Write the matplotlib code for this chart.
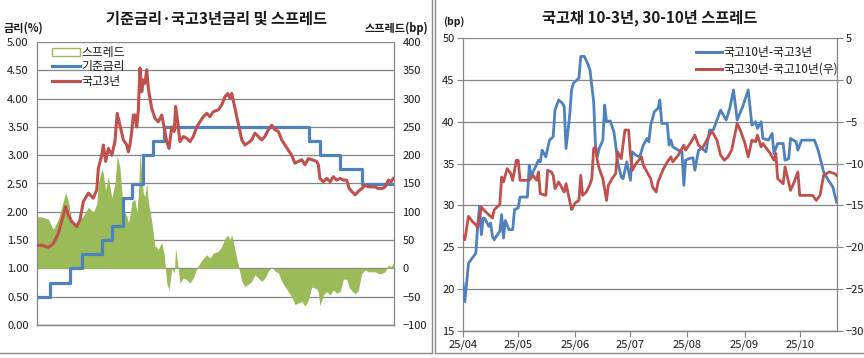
import numpy as np
import pandas as pd
import matplotlib
matplotlib.use("Agg")
import matplotlib.pyplot as plt
import matplotlib.dates as mdates
from matplotlib.lines import Line2D
from matplotlib.patches import Patch

plt.rcParams['font.family'] = ['Noto Sans CJK KR', 'DejaVu Sans']

# ---------------- data: left chart ----------------
base_dates = ['2021-07-01', '2021-08-26', '2021-11-25', '2022-01-14', '2022-04-14', '2022-05-26',
              '2022-07-13', '2022-08-25', '2022-10-12', '2022-11-24', '2023-01-13', '2024-10-11',
              '2024-11-28', '2025-02-25', '2025-05-29', '2025-10-19']
base_rate = [0.50, 0.75, 1.00, 1.25, 1.50, 1.75, 2.25, 2.50, 3.00, 3.25, 3.50, 3.25, 3.00, 2.75, 2.50, 2.50]

ktb3_dates = [
    '2021-07-01', '2021-07-22', '2021-08-20', '2021-09-11', '2021-10-03', '2021-10-25', '2021-11-04',
    '2021-11-16', '2021-12-01', '2021-12-23',
    '2022-01-06', '2022-01-21', '2022-02-12', '2022-03-06', '2022-03-21', '2022-03-28', '2022-04-12',
    '2022-04-19', '2022-04-29', '2022-05-11', '2022-05-26', '2022-06-09', '2022-06-19', '2022-07-01',
    '2022-07-16', '2022-07-31', '2022-08-07',
    '2022-08-14', '2022-08-22', '2022-08-29', '2022-09-05', '2022-09-13', '2022-09-20', '2022-09-27',
    '2022-10-05', '2022-10-12', '2022-10-19', '2022-10-27', '2022-11-03', '2022-11-10', '2022-11-18',
    '2022-12-02', '2022-12-17',
    '2023-01-01', '2023-01-12', '2023-01-23', '2023-02-02', '2023-02-14', '2023-02-25', '2023-03-03',
    '2023-03-12', '2023-03-22', '2023-04-06', '2023-04-21', '2023-05-05', '2023-05-20', '2023-06-04',
    '2023-06-18', '2023-07-03', '2023-07-18', '2023-08-01', '2023-08-16', '2023-09-07', '2023-09-22',
    '2023-10-06', '2023-10-18', '2023-10-28', '2023-11-05', '2023-11-16', '2023-11-27', '2023-12-07',
    '2023-12-19',
    '2024-01-02', '2024-01-17', '2024-02-01', '2024-02-15', '2024-03-01', '2024-03-16', '2024-03-30',
    '2024-04-14', '2024-04-29', '2024-05-13', '2024-05-28', '2024-06-12', '2024-06-26', '2024-07-11',
    '2024-07-26', '2024-08-09', '2024-08-24', '2024-09-08', '2024-09-22', '2024-10-07', '2024-10-22',
    '2024-11-13', '2024-11-20', '2024-11-27', '2024-12-12', '2024-12-27',
    '2025-01-11', '2025-01-25', '2025-02-09', '2025-02-24', '2025-03-10', '2025-03-25', '2025-04-05',
    '2025-04-16', '2025-05-01', '2025-05-15', '2025-05-30', '2025-06-14', '2025-06-28', '2025-07-13',
    '2025-07-28', '2025-08-11', '2025-08-26', '2025-09-10', '2025-09-24', '2025-10-06', '2025-10-16']
ktb3_rate = [
    1.41, 1.41, 1.37, 1.44, 1.62, 1.94, 2.09, 1.94, 1.83, 1.74,
    1.86, 2.18, 2.33, 2.24, 2.39, 2.77, 3.00, 3.18, 2.89, 3.12, 3.00, 3.24, 3.74, 3.53, 3.27, 3.18, 3.06,
    3.18, 3.42, 3.71, 3.71, 3.50, 3.80, 4.54, 4.12, 4.33, 4.27, 4.51, 4.18, 4.01, 3.83, 3.65, 3.59,
    3.71, 3.48, 3.24, 3.12, 3.50, 3.42, 3.86, 3.59, 3.24, 3.33, 3.30, 3.24, 3.33, 3.50, 3.59, 3.68, 3.74,
    3.68, 3.77, 3.80, 3.89, 4.03, 4.09, 4.01, 4.09, 3.89, 3.68, 3.50, 3.27,
    3.18, 3.22, 3.27, 3.39, 3.33, 3.27, 3.33, 3.45, 3.53, 3.45, 3.42, 3.27, 3.18, 3.09, 3.00, 2.86, 2.89,
    2.92, 2.83, 2.94, 2.92, 2.89, 2.83, 2.59, 2.53, 2.59,
    2.53, 2.62, 2.56, 2.59, 2.56, 2.56, 2.41, 2.36, 2.30, 2.36, 2.41, 2.47, 2.44, 2.44, 2.44, 2.41, 2.41,
    2.44, 2.56, 2.53, 2.59]

left_xticks = ['2021-07-01', '2022-01-01', '2022-07-01', '2023-01-01', '2023-07-01', '2024-01-01',
               '2024-07-01', '2025-01-01', '2025-07-01']

# ---------------- data: right chart ----------------
s103_dates = [
    '2025-04-01', '2025-04-02', '2025-04-04', '2025-04-06', '2025-04-08', '2025-04-09', '2025-04-10',
    '2025-04-11', '2025-04-12', '2025-04-13', '2025-04-15', '2025-04-16', '2025-04-17', '2025-04-18',
    '2025-04-19', '2025-04-21', '2025-04-22', '2025-04-23', '2025-04-24', '2025-04-26', '2025-04-28',
    '2025-04-29', '2025-05-01', '2025-05-02', '2025-05-06', '2025-05-07', '2025-05-08', '2025-05-10',
    '2025-05-12', '2025-05-13', '2025-05-14', '2025-05-16', '2025-05-18', '2025-05-20', '2025-05-21',
    '2025-05-23', '2025-05-25', '2025-05-26', '2025-05-27', '2025-05-29', '2025-05-30', '2025-05-31',
    '2025-06-03', '2025-06-04', '2025-06-06', '2025-06-08', '2025-06-09', '2025-06-11', '2025-06-12',
    '2025-06-13', '2025-06-14', '2025-06-16', '2025-06-17', '2025-06-18', '2025-06-20', '2025-06-22',
    '2025-06-23', '2025-06-24', '2025-06-26', '2025-06-27', '2025-06-29', '2025-07-01', '2025-07-02',
    '2025-07-04', '2025-07-06', '2025-07-08', '2025-07-10', '2025-07-11', '2025-07-12', '2025-07-14',
    '2025-07-16', '2025-07-17', '2025-07-18', '2025-07-21', '2025-07-22', '2025-07-23', '2025-07-24',
    '2025-07-27', '2025-07-29', '2025-07-30', '2025-07-31', '2025-08-02', '2025-08-04', '2025-08-05',
    '2025-08-07', '2025-08-09', '2025-08-11', '2025-08-13', '2025-08-15', '2025-08-17', '2025-08-19',
    '2025-08-22', '2025-08-24', '2025-08-26', '2025-08-28', '2025-08-31', '2025-09-03', '2025-09-05',
    '2025-09-07', '2025-09-08', '2025-09-10', '2025-09-11', '2025-09-14', '2025-09-16', '2025-09-17',
    '2025-09-19', '2025-09-22', '2025-09-23', '2025-09-25', '2025-09-26', '2025-09-29', '2025-09-30',
    '2025-10-02', '2025-10-09', '2025-10-11', '2025-10-14', '2025-10-16', '2025-10-19', '2025-10-21']
s103_bp = [
    20.7, 18.5, 23.1, 23.7, 24.3, 27.7, 29.9, 26.5, 28.5, 28.4, 27.5, 27.9, 26.3, 25.9, 26.3, 26.9, 28.9,
    26.1, 28.2, 27.1, 27.1, 29.5, 29.7, 31.0, 31.0, 34.8, 33.6, 34.4, 35.4, 35.2, 36.6, 35.8, 37.8, 38.2,
    41.4, 42.6, 42.2, 41.8, 36.8, 40.8, 43.8, 44.6, 45.2, 47.8, 47.8, 46.8, 46.2, 42.4, 37.2, 35.8, 36.8,
    37.8, 42.0, 40.0, 40.1, 38.8, 37.2, 35.2, 33.4, 33.2, 35.2, 33.0, 36.4, 36.0, 35.8, 37.2, 38.0, 37.6,
    39.6, 41.2, 41.6, 42.6, 39.8, 39.8, 37.2, 37.8, 37.0, 36.6, 36.4, 32.4, 35.4, 35.6, 35.7, 34.2, 36.6,
    36.8, 36.4, 39.0, 39.0, 40.2, 41.4, 40.2, 41.6, 43.8, 40.2, 41.8, 43.8, 39.6, 40.0, 39.2, 40.0, 38.0,
    37.8, 38.6, 36.2, 37.4, 37.4, 35.4, 35.6, 38.0, 37.6, 36.6, 37.8, 37.8, 36.6, 34.0, 33.2, 32.2, 30.4]

s3010_dates = [
    '2025-04-01', '2025-04-02', '2025-04-04', '2025-04-06', '2025-04-08', '2025-04-09', '2025-04-11',
    '2025-04-13', '2025-04-15', '2025-04-17', '2025-04-18', '2025-04-19', '2025-04-21', '2025-04-22',
    '2025-04-23', '2025-04-25', '2025-04-27', '2025-04-28', '2025-04-30', '2025-05-01', '2025-05-02',
    '2025-05-05', '2025-05-07', '2025-05-09', '2025-05-11', '2025-05-12', '2025-05-13', '2025-05-16',
    '2025-05-17', '2025-05-19', '2025-05-20', '2025-05-21', '2025-05-23', '2025-05-25', '2025-05-26',
    '2025-05-27', '2025-05-30', '2025-06-01', '2025-06-03', '2025-06-04', '2025-06-05', '2025-06-07',
    '2025-06-09', '2025-06-10', '2025-06-11', '2025-06-12', '2025-06-13', '2025-06-14', '2025-06-16',
    '2025-06-18', '2025-06-19', '2025-06-21', '2025-06-23', '2025-06-24', '2025-06-26', '2025-06-28',
    '2025-06-30', '2025-07-01', '2025-07-02', '2025-07-04', '2025-07-07', '2025-07-08', '2025-07-10',
    '2025-07-12', '2025-07-13', '2025-07-15', '2025-07-16', '2025-07-19', '2025-07-21', '2025-07-23',
    '2025-07-24', '2025-07-27', '2025-07-30', '2025-07-31', '2025-08-03', '2025-08-05', '2025-08-07',
    '2025-08-09', '2025-08-11', '2025-08-14', '2025-08-15', '2025-08-17', '2025-08-19', '2025-08-21',
    '2025-08-23', '2025-08-25', '2025-08-28', '2025-08-30', '2025-09-01', '2025-09-03', '2025-09-05',
    '2025-09-07', '2025-09-08', '2025-09-10', '2025-09-11', '2025-09-13', '2025-09-15', '2025-09-17',
    '2025-09-18', '2025-09-19', '2025-09-22', '2025-09-23', '2025-09-26', '2025-09-28', '2025-09-30',
    '2025-10-01', '2025-10-05', '2025-10-08', '2025-10-10', '2025-10-12', '2025-10-14', '2025-10-17',
    '2025-10-20', '2025-10-21']
s3010_bp = [
    -18.7, -19.1, -16.3, -16.9, -17.3, -17.7, -15.2, -15.7, -16.1, -16.5, -15.5, -15.3, -14.9, -11.6,
    -12.2, -10.6, -11.2, -12.0, -9.6, -9.6, -12.0, -12.0, -12.0, -11.4, -12.0, -11.0, -13.6, -13.8,
    -10.8, -11.0, -11.4, -13.0, -12.2, -13.0, -13.4, -12.4, -15.5, -14.7, -14.4, -11.4, -13.8, -13.4,
    -12.5, -11.8, -8.2, -8.0, -9.6, -10.6, -11.8, -14.4, -12.6, -11.8, -11.2, -8.6, -9.4, -6.0, -6.0,
    -9.0, -10.8, -10.0, -9.2, -10.2, -11.0, -11.8, -12.8, -13.4, -12.2, -10.6, -9.8, -9.2, -9.8, -9.0,
    -7.8, -8.4, -7.4, -6.6, -7.8, -8.2, -7.4, -6.2, -6.4, -7.2, -9.0, -9.6, -9.2, -8.4, -5.2, -6.2,
    -7.4, -9.2, -7.2, -7.4, -6.6, -8.0, -7.6, -8.2, -8.8, -9.6, -8.8, -11.8, -12.4, -10.4, -13.2, -12.2,
    -11.0, -13.8, -13.8, -13.8, -14.4, -13.8, -11.4, -11.0, -11.2, -11.4]

right_xticks = ['2025-04-01', '2025-05-01', '2025-06-01', '2025-07-01', '2025-08-01', '2025-09-01',
                '2025-10-01']

# ---------------- styling ----------------
BLUE = '#4F81BD'
RED = '#C0504D'
GREEN = '#9BBB59'
GRID = '#868686'
TXT = '#1a1a1a'
FS_TICK = 8

W, H = 864, 358
fig = plt.figure(figsize=(W / 100, H / 100), dpi=100)
fig.patch.set_facecolor('white')


def frac(x0, y0, x1, y1):
    return [x0 / W, 1 - y1 / H, (x1 - x0) / W, (y1 - y0) / H]


def style_axis(ax):
    for s in ax.spines.values():
        s.set_color(GRID)
        s.set_linewidth(0.9)
    ax.spines['top'].set_visible(False)
    ax.tick_params(axis='both', labelsize=FS_TICK, colors=TXT, length=4, width=0.8,
                   direction='out', color=GRID, pad=2)


# ---------------- left chart ----------------
axL2 = fig.add_axes(frac(37, 42, 394, 325))      # secondary (spread, bp) - drawn behind
axL = axL2.twinx()                                # primary handled below
# swap: make axL a proper primary on left side
axL.yaxis.tick_left()
axL.yaxis.set_label_position('left')
axL2.yaxis.tick_right()
axL.set_zorder(axL2.get_zorder() + 1)
axL.patch.set_visible(False)

d3 = pd.to_datetime(ktb3_dates)
dB = pd.to_datetime(base_dates)
r3 = np.array(ktb3_rate)
rb = np.array(base_rate)
idx = np.searchsorted(dB.values, d3.values, side='right') - 1
spread_bp = (r3 - rb[idx]) * 100

axL2.fill_between(d3, 0, spread_bp, color=GREEN, linewidth=0, zorder=2)
axL2.set_ylim(-100, 400)
axL2.set_yticks(np.arange(-100, 401, 50))
axL2.grid(axis='y', color=GRID, linewidth=0.9)
axL2.set_axisbelow(True)

axL.step(dB, rb, where='post', color=BLUE, linewidth=2.3, zorder=3)
axL.plot(d3, r3, color=RED, linewidth=2.2, zorder=4)
axL.set_ylim(0, 5)
axL.set_yticks(np.arange(0, 5.01, 0.5))
axL.yaxis.set_major_formatter(matplotlib.ticker.FormatStrFormatter('%.2f'))

xl0, xl1 = pd.Timestamp('2021-07-01'), pd.Timestamp('2025-10-19')
for a in (axL, axL2):
    a.set_xlim(xl0, xl1)
axL2.set_xticks(pd.to_datetime(left_xticks))
axL2.xaxis.set_major_formatter(mdates.DateFormatter('%y/%m'))
axL.set_xticks(pd.to_datetime(left_xticks))
axL.xaxis.set_major_formatter(mdates.DateFormatter('%y/%m'))
style_axis(axL)
style_axis(axL2)
axL2.tick_params(axis='x', labelbottom=False, length=0)
axL.spines['right'].set_visible(False)
axL2.spines['left'].set_visible(False)
axL.tick_params(axis='y', length=0, pad=6)
axL2.tick_params(axis='y', length=0, pad=6)
axL2.spines['right'].set_visible(True)

handlesL = [Patch(facecolor='white', edgecolor=GREEN, linewidth=1.0, label='스프레드'),
            Line2D([], [], color=BLUE, linewidth=2.3, label='기준금리'),
            Line2D([], [], color=RED, linewidth=2.3, label='국고3년')]
legL = axL.legend(handles=handlesL, loc='upper left', bbox_to_anchor=(0.02, 1.015), frameon=False,
                  fontsize=8.5, handlelength=2.3, handleheight=0.7, handletextpad=0.15,
                  labelspacing=0.12, borderpad=0.2)
for t in legL.get_texts():
    t.set_color(TXT)

fig.text(216 / W, 1 - 19 / H, '기준금리·국고3년금리 및 스프레드', ha='center', va='center',
         fontsize=11, fontweight='bold', color=TXT)
fig.text(4 / W, 1 - 28 / H, '금리(%)', ha='left', va='center', fontsize=8, fontweight='bold', color=TXT)
fig.text(428 / W, 1 - 28 / H, '스프레드(bp)', ha='right', va='center', fontsize=8, fontweight='bold',
         color=TXT)

# ---------------- right chart ----------------
axR = fig.add_axes(frac(463, 38, 837, 331))
axR2 = axR.twinx()
dA = pd.to_datetime(s103_dates)
dC = pd.to_datetime(s3010_dates)
lA, = axR.plot(dA, s103_bp, color=BLUE, linewidth=2.0, zorder=3)
lC, = axR2.plot(dC, s3010_bp, color=RED, linewidth=2.0, zorder=3)
axR.set_ylim(15, 50)
axR.set_yticks(np.arange(15, 51, 5))
axR2.set_ylim(-30, 5)
axR2.set_yticks(np.arange(-30, 6, 5))
xr0, xr1 = pd.Timestamp('2025-04-01'), pd.Timestamp('2025-10-21 06:00')
axR.set_xlim(xr0, xr1)
axR2.set_xlim(xr0, xr1)
axR.set_xticks(pd.to_datetime(right_xticks))
axR.xaxis.set_major_formatter(mdates.DateFormatter('%y/%m'))
axR.grid(axis='y', color=GRID, linewidth=0.9)
axR.set_axisbelow(True)
style_axis(axR)
style_axis(axR2)
axR2.spines['left'].set_visible(False)
axR.spines['right'].set_visible(False)
axR2.spines['right'].set_visible(True)

legR = axR2.legend(handles=[Line2D([], [], color=BLUE, linewidth=2.2, label='국고10년-국고3년'),
                            Line2D([], [], color=RED, linewidth=2.2, label='국고30년-국고10년(우)')],
                   loc='upper left', bbox_to_anchor=(0.6, 1.0), frameon=False, fontsize=8.5,
                   handlelength=2.2, handletextpad=0.15, labelspacing=0.3, borderpad=0.2)
for t in legR.get_texts():
    t.set_color(TXT)

fig.text(650 / W, 1 - 18 / H, '국고채 10-3년, 30-10년 스프레드', ha='center', va='center',
         fontsize=11, fontweight='bold', color=TXT)
fig.text(443 / W, 1 - 22 / H, '(bp)', ha='left', va='center', fontsize=7.5, fontweight='bold',
         color=TXT)

# ---------------- chart frames ----------------
FRAME = '#8c8c8c'
for xs, ys in [([431.5, 431.5], [0, 353]), ([434.5, 434.5], [0, 353]),
               ([0, 431.5], [353, 353]), ([434.5, 864], [353, 353])]:
    fig.add_artist(Line2D([x / W for x in xs], [1 - y / H for y in ys], color=FRAME, linewidth=1.0))

fig.savefig('out.png', dpi=100, facecolor='white')
